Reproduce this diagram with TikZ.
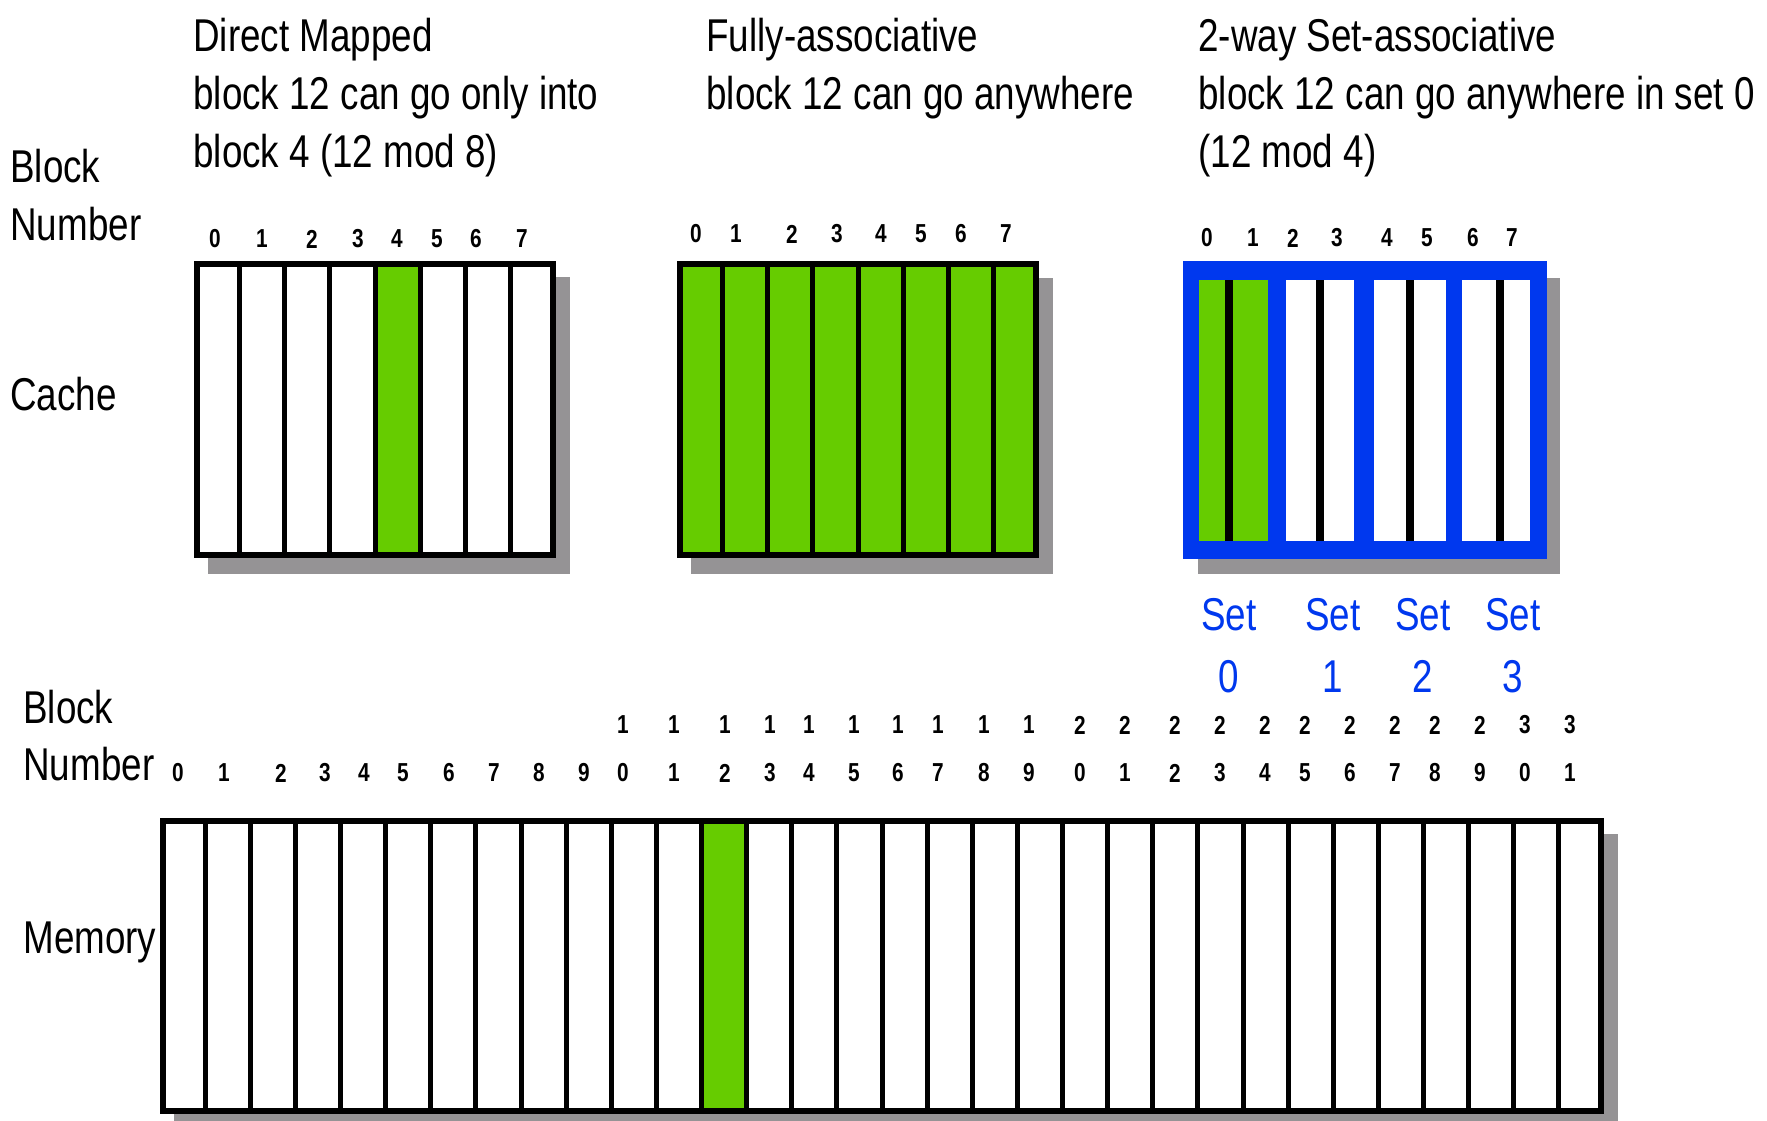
\documentclass[tikz,border=0pt]{standalone}
\usepackage{fontspec}
\setmainfont{Liberation Sans}[FakeStretch=0.8]
\definecolor{cgreen}{HTML}{66CC00}
\definecolor{cblue}{HTML}{0038EE}
\definecolor{cshadow}{HTML}{959395}
\begin{document}
\begin{tikzpicture}[x=0.5pt,y=-0.5pt,
  lbl/.style={anchor=base west, inner sep=0pt, font=\fontsize{23}{29}\selectfont},
  num/.style={anchor=center, inner sep=0pt, font=\bfseries\fontsize{13}{13}\selectfont},
  setl/.style={anchor=base, inner sep=0pt, text=cblue, font=\fontsize{23}{29}\selectfont},
  outerframe/.style={draw=black, line width=3pt},
  divider/.style={draw=black, line width=2.5pt},
  shadowbox/.style={fill=cshadow}]
\useasboundingbox (0,0) rectangle (1767,1120);
\fill[white] (0,0) rectangle (1767,1120);

% ---------- titles ----------
\node[lbl] (dm1) at (193,51) {Direct Mapped};
\node[lbl] (dm2) at (193,109) {block 12 can go only into};
\node[lbl] (dm3) at (193,167) {block 4 (12 mod 8)};
\node[lbl] (fa1) at (706,51) {Fully-associative};
\node[lbl] (fa2) at (706,109) {block 12 can go anywhere};
\node[lbl] (sa1) at (1198,51) {2-way Set-associative};
\node[lbl] (sa2) at (1198,109) {block 12 can go anywhere in set 0};
\node[lbl] (sa3) at (1198,167) {(12 mod 4)};

% ---------- left labels ----------
\node[lbl] (bn1) at (10,182) {Block};
\node[lbl] (bn2) at (10,240) {Number};
\node[lbl] (cache) at (10,410) {Cache};
\node[lbl] (bn3) at (23,723) {Block};
\node[lbl] (bn4) at (23,780) {Number};
\node[lbl] (mem) at (23,953) {Memory};

% ---------- Direct mapped cache ----------
\fill[cshadow] (208,277) rectangle (570,574);
\fill[white] (194,261) rectangle (556,558);
\fill[cgreen] (375,261) rectangle (420,558);
\foreach \i in {1,...,7} {
  \draw[divider] ({194+45.25*\i},261) -- ({194+45.25*\i},558);
}
\draw[outerframe] (197,264) rectangle (553,555);
\foreach \x [count=\i from 0] in {215,262,312,358,397,437,476,522} {
  \node[num] (dml\i) at (\x,239) {\i};
}

% ---------- Fully associative cache ----------
\fill[cshadow] (691,278) rectangle (1053,574);
\fill[cgreen] (677,261) rectangle (1039,558);
\foreach \i in {1,...,7} {
  \draw[divider] ({677+45.25*\i},261) -- ({677+45.25*\i},558);
}
\draw[outerframe] (680,264) rectangle (1036,555);
\foreach \x [count=\i from 0] in {696,736,792,837,881,921,961,1006} {
  \node[num] (fal\i) at (\x,234) {\i};
}

% ---------- 2-way set associative cache ----------
\fill[cshadow] (1198,278) rectangle (1560,574);
\fill[cblue] (1183,261) rectangle (1547,559);
\fill[cgreen] (1199,280) rectangle (1268,541);
\fill[white] (1286,280) rectangle (1354,541);
\fill[white] (1374,280) rectangle (1446,541);
\fill[white] (1462,280) rectangle (1530,541);
\foreach \x in {1229,1320,1410,1500} {
  \draw[black, line width=4pt] (\x,280) -- (\x,541);
}
\foreach \x [count=\i from 0] in {1207,1253,1293,1337,1387,1427,1473,1512} {
  \node[num] (sal\i) at (\x,238) {\i};
}
\foreach \x [count=\i from 0] in {1229,1333,1423,1513} {
  \node[setl] (set\i) at (\x,630) {Set};
  \node[setl] (setn\i) at (\x,692) {\i};
}

% ---------- Memory ----------
\fill[cshadow] (174,834) rectangle (1618,1125);
\fill[white] (160,818) rectangle (1604,1114);
\fill[cgreen] ({160+45.125*12},818) rectangle ({160+45.125*13},1114);
\foreach \i in {1,...,31} {
  \draw[divider] ({160+45.125*\i},818) -- ({160+45.125*\i},1114);
}
\draw[outerframe] (163,821) rectangle (1601,1111);
\foreach \x [count=\i from 0] in {178,224,281,325,364,403,449,494,539,584,623,674,725,770,809,854,898,938,984,1029,1080,1125,1175,1220,1265,1305,1350,1395,1435,1480,1525,1570} {
  \pgfmathtruncatemacro{\munit}{mod(\i,10)}
  \pgfmathtruncatemacro{\mtens}{div(\i,10)}
  \node[num] (mu\i) at (\x,773) {\munit};
  \ifnum\i>9 \node[num] (mt\i) at (\x,725) {\mtens}; \fi
}
\end{tikzpicture}
\end{document}
